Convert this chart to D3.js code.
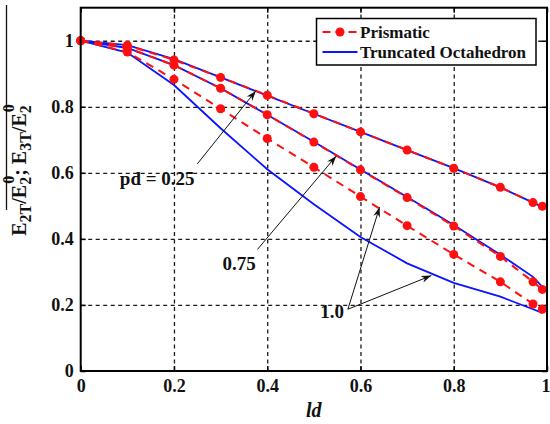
<!DOCTYPE html>
<html>
<head>
<meta charset="utf-8">
<script src="https://cdn.jsdelivr.net/npm/d3@7/dist/d3.min.js"></script>
<style>
  body { margin: 0; background: #fff; }
  svg text { font-family: "Liberation Serif", "Times New Roman", Times, "DejaVu Serif", serif !important; font-weight: bold; }
</style>
</head>
<body>
<svg id="chart" width="550" height="424"></svg>
<script>
// ld values where the curves were sampled
const ldValues = [0, 0.1, 0.2, 0.3, 0.4, 0.5, 0.6, 0.7, 0.8, 0.9, 0.97, 0.99]

// Prismatic model (red dashed, dots)
const prism025 = [1, 0.986, 0.942, 0.889, 0.835, 0.779, 0.724, 0.669, 0.614, 0.556, 0.510, 0.499]
const prism075 = [1, 0.978, 0.926, 0.856, 0.776, 0.693, 0.609, 0.525, 0.439, 0.347, 0.270, 0.247]
const prism100 = [1, 0.966, 0.883, 0.794, 0.704, 0.617, 0.528, 0.440, 0.353, 0.270, 0.203, 0.187]

// Truncated octahedron model (blue solid)
const octa025 = [1, 0.987, 0.944, 0.889, 0.834, 0.779, 0.724, 0.669, 0.614, 0.556, 0.510, 0.497]
const octa075 = [1, 0.978, 0.926, 0.856, 0.776, 0.694, 0.610, 0.527, 0.442, 0.352, 0.285, 0.255]
const octa100 = [1, 0.964, 0.866, 0.735, 0.611, 0.505, 0.406, 0.326, 0.267, 0.225, 0.187, 0.176]

const xTicks = [0, 0.2, 0.4, 0.6, 0.8, 1]
const xTickLabels = ['0', '0.2', '0.4', '0.6', '0.8', '1']
const yTicks = [0, 0.2, 0.4, 0.6, 0.8, 1]
const yTickLabels = ['0', '0.2', '0.4', '0.6', '0.8', '1']

const legendLabels = ['Prismatic', 'Truncated Octahedron']

// annotations, in data units: label, label position, arrow tail, arrow tips
const notes = [
  { text: 'pd = 0.25', at: [0.084, 0.563], from: [0.25, 0.627], to: [[0.3755, 0.848]] },
  { text: '0.75', at: [0.304, 0.306], from: [0.379, 0.368], to: [[0.548, 0.651]] },
  { text: '1.0', at: [0.514, 0.160], from: [0.573, 0.187], to: [[0.641, 0.496], [0.752, 0.289]] }
]

const svg = d3.select('#chart')
const margin = { top: 7.7, right: 3, bottom: 53, left: 80.7 }
const width = 550 - margin.left - margin.right
const height = 424 - margin.top - margin.bottom

const x = d3.scaleLinear().domain([0, 1]).range([0, width])
const y = d3.scaleLinear().domain([0, 1.1]).range([height, 0])

const g = svg.append('g').attr('transform', `translate(${margin.left},${margin.top})`)

// grid
g.append('g')
  .attr('transform', `translate(0,${height})`)
  .call(d3.axisBottom(x).tickValues(xTicks.slice(1, -1)).tickSize(-height).tickFormat(''))
  .call(a => a.select('.domain').remove())
  .selectAll('line').attr('stroke', '#1a1a1a').attr('stroke-width', 1.3).attr('stroke-dasharray', '4,3.5')

g.append('g')
  .call(d3.axisLeft(y).tickValues(yTicks.slice(1)).tickSize(-width).tickFormat(''))
  .call(a => a.select('.domain').remove())
  .selectAll('line').attr('stroke', '#1a1a1a').attr('stroke-width', 1.3).attr('stroke-dasharray', '4,3.5')

// inward ticks on all sides
const tickLen = 5
g.append('g').attr('transform', `translate(0,${height})`)
  .call(d3.axisBottom(x).tickValues(xTicks).tickSize(-tickLen).tickFormat(''))
g.append('g')
  .call(d3.axisTop(x).tickValues(xTicks).tickSize(-tickLen).tickFormat(''))
g.append('g')
  .call(d3.axisLeft(y).tickValues(yTicks).tickSize(-tickLen).tickFormat(''))
g.append('g').attr('transform', `translate(${width},0)`)
  .call(d3.axisRight(y).tickValues(yTicks).tickSize(-tickLen).tickFormat(''))
g.selectAll('.domain').remove()
g.selectAll('.tick line').filter(function () { return !this.getAttribute('stroke-dasharray') })
  .attr('stroke', '#000').attr('stroke-width', 1.5)

// tick labels
g.append('g').attr('transform', `translate(0,${height})`)
  .call(d3.axisBottom(x).tickValues(xTicks).tickSize(0).tickPadding(8).tickFormat((d, i) => xTickLabels[i]))
  .call(a => a.select('.domain').remove())
  .selectAll('text').attr('font-size', 18).attr('fill', '#111')
  .attr('dx', (d, i) => i === xTicks.length - 1 ? -1.5 : 0)

g.append('g')
  .call(d3.axisLeft(y).tickValues(yTicks).tickSize(0).tickPadding(7).tickFormat((d, i) => yTickLabels[i]))
  .call(a => a.select('.domain').remove())
  .selectAll('text').attr('font-size', 18).attr('fill', '#111')

// curves
const line = d3.line().x(d => x(d[0])).y(d => y(d[1]))

const octaSeries = [octa025, octa075, octa100]
const prismSeries = [prism025, prism075, prism100]

octaSeries.forEach(vals => {
  g.append('path')
    .datum(ldValues.map((v, i) => [v, vals[i]]))
    .attr('d', line)
    .attr('fill', 'none')
    .attr('stroke', '#0a14ff')
    .attr('stroke-width', 1.8)
})

prismSeries.forEach(vals => {
  const pts = ldValues.map((v, i) => [v, vals[i]])
  g.append('path')
    .datum(pts)
    .attr('d', line)
    .attr('fill', 'none')
    .attr('stroke', '#ff1010')
    .attr('stroke-width', 2)
    .attr('stroke-dasharray', '8,6')
  g.append('g').selectAll('circle')
    .data(pts)
    .enter().append('circle')
    .attr('cx', d => x(d[0]))
    .attr('cy', d => y(d[1]))
    .attr('r', 4.5)
    .attr('fill', '#ff1010')
})

// frame
g.append('rect')
  .attr('width', width).attr('height', height)
  .attr('fill', 'none').attr('stroke', '#000').attr('stroke-width', 2)

// arrows
svg.append('defs').append('marker')
  .attr('id', 'head')
  .attr('viewBox', '0 0 10 10')
  .attr('refX', 10).attr('refY', 5)
  .attr('markerWidth', 10).attr('markerHeight', 10)
  .attr('markerUnits', 'userSpaceOnUse')
  .attr('orient', 'auto')
  .append('path').attr('d', 'M0,1.5 L10,5 L0,8.5 L3,5 Z').attr('fill', '#111')

notes.forEach(n => {
  n.to.forEach(t => {
    g.append('line')
      .attr('x1', x(n.from[0])).attr('y1', y(n.from[1]))
      .attr('x2', x(t[0])).attr('y2', y(t[1]))
      .attr('stroke', '#111').attr('stroke-width', 1)
      .attr('marker-end', 'url(#head)')
  })
  g.append('text')
    .attr('x', x(n.at[0])).attr('y', y(n.at[1]))
    .attr('font-size', 19).attr('fill', '#111')
    .text(n.text)
})

// legend
const lg = svg.append('g').attr('transform', 'translate(316.5,18.5)')
lg.append('rect').attr('width', 219.5).attr('height', 46.5)
  .attr('fill', '#fff').attr('stroke', '#000').attr('stroke-width', 1.5)
lg.append('line').attr('x1', 6).attr('x2', 41).attr('y1', 13.5).attr('y2', 13.5)
  .attr('stroke', '#ff1010').attr('stroke-width', 2).attr('stroke-dasharray', '8,5')
lg.append('circle').attr('cx', 23.5).attr('cy', 13.5).attr('r', 4.5).attr('fill', '#ff1010')
lg.append('line').attr('x1', 6).attr('x2', 41).attr('y1', 33.5).attr('y2', 33.5)
  .attr('stroke', '#0a14ff').attr('stroke-width', 1.8)
lg.selectAll('text.lab')
  .data(legendLabels)
  .enter().append('text')
  .attr('class', 'lab')
  .attr('x', 43.5)
  .attr('y', (d, i) => 19 + i * 20)
  .attr('font-size', 17).attr('fill', '#111')
  .text(d => d)

// x label
svg.append('text')
  .attr('x', margin.left + x(0.5)).attr('y', 417)
  .attr('text-anchor', 'middle')
  .attr('font-size', 20).attr('font-style', 'italic').attr('fill', '#111')
  .text('ld')

// y label, rotated
const yl = svg.append('text')
  .attr('transform', 'translate(26,170) rotate(-90)')
  .attr('text-anchor', 'middle')
  .attr('font-size', 20).attr('fill', '#111')
yl.append('tspan').text('E')
yl.append('tspan').attr('font-size', 16).attr('dy', 5).text('2T')
yl.append('tspan').attr('dy', -5).text('/E')
yl.append('tspan').attr('font-size', 16).attr('dy', 5).text('2')
yl.append('tspan').attr('font-size', 16).attr('dx', -7).attr('dy', -17).text('0')
yl.append('tspan').attr('dy', 12).text(';   E')
yl.append('tspan').attr('font-size', 16).attr('dy', 5).text('3T')
yl.append('tspan').attr('dy', -5).text('/E')
yl.append('tspan').attr('font-size', 16).attr('dy', 5).text('2')
yl.append('tspan').attr('font-size', 16).attr('dx', -7).attr('dy', -17).text('0')

svg.append('line')
  .attr('x1', 6.5).attr('x2', 6.5).attr('y1', 5).attr('y2', 210)
  .attr('stroke', '#111').attr('stroke-width', 1.3)
</script>
</body>
</html>
